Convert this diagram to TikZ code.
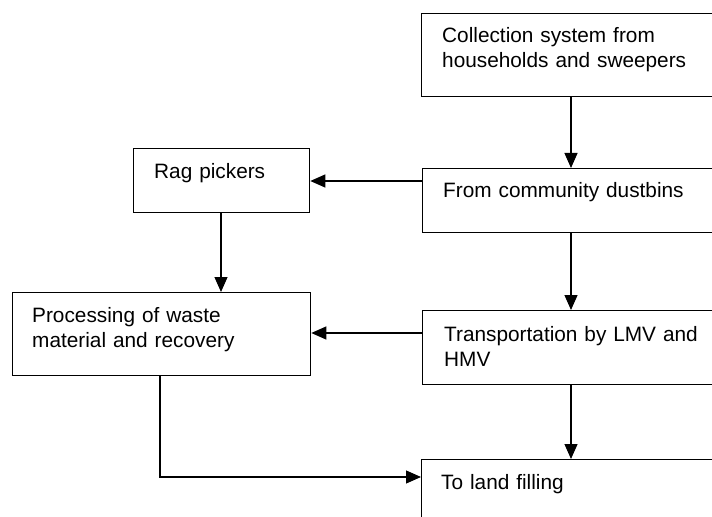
\documentclass[tikz,border=0pt]{standalone}
\usepackage{fontspec}
\setmainfont{Liberation Sans}
\usetikzlibrary{arrows.meta}
\begin{document}
\begin{tikzpicture}[x=1bp,y=-1bp,
  box/.style={draw=black, line width=1.3bp, rectangle, inner sep=0pt, anchor=north west},
  boxtext/.style={anchor=base west, inner sep=0pt, text width=300bp, align=left,
    font=\fontsize{20.8bp}{25bp}\selectfont},
  flow/.style={draw=black, line width=1.2bp, -{Triangle[length=15bp,width=13bp]}}]
\useasboundingbox (0,0) rectangle (712,517);
\clip (0,0) rectangle (712,517);

% process boxes (the right-hand column runs past the page edge)
\node[box, minimum width=309bp, minimum height=83bp] (coll)  at (421,13)  {};
\node[box, minimum width=308bp, minimum height=64bp] (dust)  at (422,168) {};
\node[box, minimum width=176bp, minimum height=64bp] (rag)   at (133,148) {};
\node[box, minimum width=298bp, minimum height=83bp] (proc)  at (12,292)  {};
\node[box, minimum width=308bp, minimum height=74bp] (trans) at (422,310) {};
\node[box, minimum width=309bp, minimum height=90bp] (land)  at (421,459) {};

% box captions, set flush left near the top of each box
\node[boxtext] (coll-t)  at ([shift={(21,30)}]coll.north west)  {Collection system from\\households and sweepers};
\node[boxtext] (dust-t)  at ([shift={(21,30)}]dust.north west)  {From community dustbins};
\node[boxtext] (rag-t)   at ([shift={(21,31)}]rag.north west)   {Rag pickers};
\node[boxtext] (proc-t)  at ([shift={(20,30)}]proc.north west)  {Processing of waste\\material and recovery};
\node[boxtext] (trans-t) at ([shift={(22,31)}]trans.north west) {Transportation by LMV and\\HMV};
\node[boxtext] (land-t)  at ([shift={(20,30)}]land.north west)  {To land filling};

% guide lines for the connectors
\coordinate (colA) at (571,0);
\coordinate (colB) at (221,0);
\coordinate (colC) at (160,0);
\coordinate (rowA) at (0,181);
\coordinate (rowB) at (0,333);
\coordinate (rowC) at (0,477);

% connectors
\draw[flow] (coll.south -| colA) -- (dust.north -| colA);
\draw[flow] (dust.west |- rowA) -- (rag.east |- rowA);
\draw[flow] (rag.south -| colB) -- (proc.north -| colB);
\draw[flow] (dust.south -| colA) -- (trans.north -| colA);
\draw[flow] (trans.west |- rowB) -- (proc.east |- rowB);
\draw[flow] (trans.south -| colA) -- (land.north -| colA);
\draw[flow] (proc.south -| colC) |- (land.west |- rowC);
\end{tikzpicture}
\end{document}
